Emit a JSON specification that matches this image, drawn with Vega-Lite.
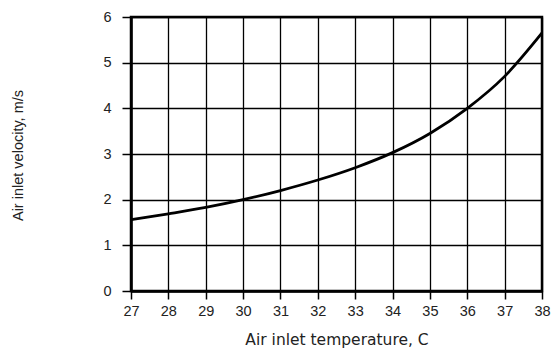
{
  "$schema": "https://vega.github.io/schema/vega-lite/v6.json",
  "width": 411,
  "height": 274,
  "autosize": "none",
  "padding": {"left": 131, "top": 17, "right": 11, "bottom": 59},
  "background": "white",
  "config": {
    "view": {"stroke": "black", "strokeWidth": 2.5},
    "font": "Liberation Sans"
  },
  "data": {
    "values": [
      {"t": 27, "v": 1.56},
      {"t": 28, "v": 1.69},
      {"t": 29, "v": 1.83},
      {"t": 30, "v": 2.0},
      {"t": 31, "v": 2.2},
      {"t": 32, "v": 2.43},
      {"t": 33, "v": 2.7},
      {"t": 34, "v": 3.03},
      {"t": 35, "v": 3.45},
      {"t": 36, "v": 4.0},
      {"t": 37, "v": 4.7},
      {"t": 38, "v": 5.65}
    ]
  },
  "mark": {"type": "line", "color": "black", "strokeWidth": 2.8, "interpolate": "monotone"},
  "encoding": {
    "x": {
      "field": "t", "type": "quantitative",
      "scale": {"domain": [27, 38], "nice": false, "zero": false},
      "axis": {
        "title": "Air inlet temperature, C",
        "values": [27,28,29,30,31,32,33,34,35,36,37,38],
        "format": "d",
        "grid": true, "gridColor": "black", "gridOpacity": 1, "gridWidth": 1.3,
        "domainColor": "black", "domainWidth": 2.5,
        "tickColor": "black", "tickSize": 8, "tickWidth": 1.5,
        "labelFontSize": 14.5, "labelColor": "#222", "labelPadding": 5,
        "labelFlush": false,
        "titleFont": "DejaVu Sans",
        "titleFontSize": 15.5, "titleFontWeight": "normal", "titleColor": "#222",
        "titleX": 205.5, "titleY": 48, "titleBaseline": "middle"
      }
    },
    "y": {
      "field": "v", "type": "quantitative",
      "scale": {"domain": [0, 6], "nice": false},
      "axis": {
        "title": "Air inlet velocity, m/s",
        "values": [0,1,2,3,4,5,6],
        "grid": true, "gridColor": "black", "gridOpacity": 1, "gridWidth": 1.3,
        "domainColor": "black", "domainWidth": 2.5,
        "tickColor": "black", "tickSize": 9, "tickWidth": 1.5,
        "labelFontSize": 14.5, "labelColor": "#222", "labelPadding": 11,
        "labelFlush": false,
        "titleFontSize": 14.5, "titleFontWeight": "normal", "titleColor": "#222",
        "titleX": -113, "titleY": 138, "titleBaseline": "middle", "titleAlign": "center"
      }
    }
  }
}
